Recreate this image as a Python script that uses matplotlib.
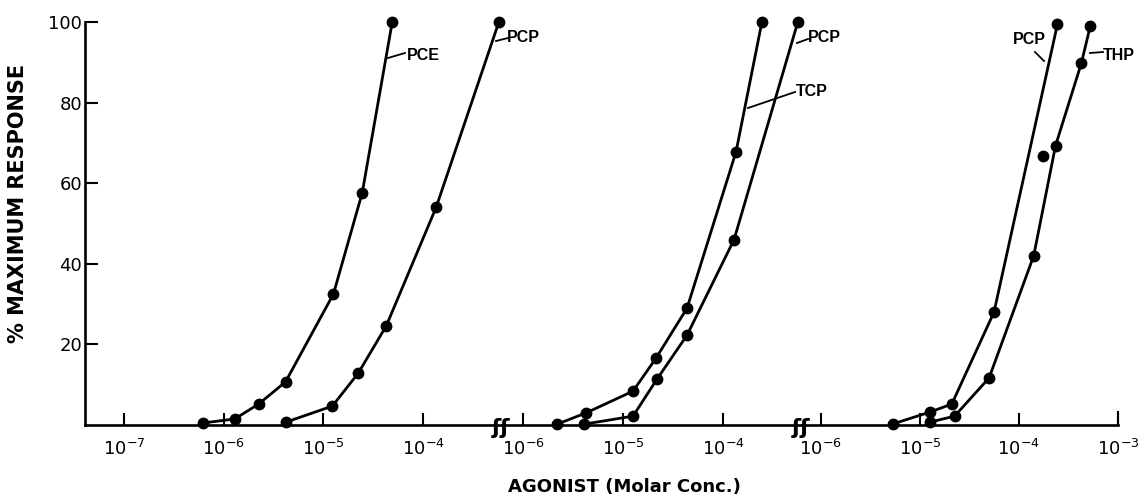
import matplotlib
matplotlib.use("Agg")
import matplotlib.pyplot as plt
from matplotlib.lines import Line2D

# ---------------- data (molar concentration, % maximum response) ----------------
# Panel 1
pce1_conc = [6.2e-7, 1.29e-6, 2.24e-6, 4.17e-6, 1.26e-5, 2.45e-5, 4.9e-5]
pce1_resp = [0.5, 1.5, 5.2, 10.7, 32.5, 57.6, 100]
pcp1_conc = [4.2e-6, 1.23e-5, 2.24e-5, 4.27e-5, 1.35e-4, 5.75e-4]
pcp1_resp = [0.7, 4.7, 12.9, 24.6, 54, 100]
# Panel 2
tcp2_conc = [2.19e-6, 4.27e-6, 1.26e-5, 2.14e-5, 4.37e-5, 1.35e-4, 2.45e-4]
tcp2_resp = [0.2, 3.0, 8.4, 16.6, 29, 67.8, 100]
pcp2_conc = [4.07e-6, 1.26e-5, 2.19e-5, 4.37e-5, 1.29e-4, 5.6e-4]
pcp2_resp = [0.2, 2.2, 11.4, 22.3, 46, 100]
# Panel 3
pcp3_conc = [5.4e-6, 1.26e-5, 2.1e-5, 5.6e-5, 2.45e-4]
pcp3_resp = [0.3, 3.2, 5.2, 28, 99.5]
thp3_conc = [1.26e-5, 2.24e-5, 5.0e-5, 1.41e-4, 2.34e-4, 4.27e-4, 5.25e-4]
thp3_resp = [0.7, 2.2, 11.7, 42, 69.3, 89.8, 99]
extra3_conc = [1.74e-4]
extra3_resp = [66.8]

yticks = [20, 40, 60, 80, 100]
xticks1 = [1e-7, 1e-6, 1e-5, 1e-4]
xticks2 = [1e-6, 1e-5, 1e-4]
xticks3 = [1e-6, 1e-5, 1e-4, 1e-3]
xticklabels1 = ["$10^{-7}$", "$10^{-6}$", "$10^{-5}$", "$10^{-4}$"]
xticklabels2 = ["$10^{-6}$", "$10^{-5}$", "$10^{-4}$"]
xticklabels3 = ["$10^{-6}$", "$10^{-5}$", "$10^{-4}$", "$10^{-3}$"]

# ---------------- layout ----------------
plt.rcParams['mathtext.fontset'] = 'dejavusans'
W, H = 1147, 499
fig = plt.figure(figsize=(W / 100, H / 100), dpi=100)
fig.patch.set_facecolor("white")


def fx(x):
    return x / W


def fy(y):
    return 1 - y / H


top_px, bot_px = 22, 425
edges = [85, 502, 802, 1118]
xlims = [(10 ** -7.391, 10 ** -3.209), (10 ** -6.21, 10 ** -3.21), (10 ** -6.19, 10 ** -3.0)]
axes = []
for i in range(3):
    ax = fig.add_axes([fx(edges[i]), fy(bot_px), (edges[i + 1] - edges[i]) / W,
                       (bot_px - top_px) / H])
    ax.patch.set_visible(False)
    ax.set_xscale("log")
    ax.set_xlim(*xlims[i])
    ax.set_ylim(0, 100)
    for s in ["top", "right"]:
        ax.spines[s].set_visible(False)
    ax.spines["bottom"].set_linewidth(1.9)
    ax.spines["left"].set_linewidth(1.9)
    if i > 0:
        ax.spines["left"].set_visible(False)
        ax.set_yticks([])
    ax.minorticks_off()
    ax.tick_params(axis="x", direction="in", length=8.5, width=1.5, pad=10,
                   labelsize=13)
    axes.append(ax)

ax1, ax2, ax3 = axes
ax1.set_yticks(yticks)
ax1.set_yticklabels([str(v) for v in yticks])
ax1.tick_params(axis="y", direction="in", length=9, width=1.5, pad=2, labelsize=13)

for ax, t, l in zip(axes, [xticks1, xticks2, xticks3],
                    [xticklabels1, xticklabels2, xticklabels3]):
    ax.set_xticks(t)
    ax.set_xticklabels(l)
    ax.minorticks_off()

style = dict(color="black", lw=2.0, marker="o", ms=7.5, clip_on=False, zorder=5)
ax1.plot(pce1_conc, pce1_resp, **style)
ax1.plot(pcp1_conc, pcp1_resp, **style)
ax2.plot(tcp2_conc, tcp2_resp, **style)
ax2.plot(pcp2_conc, pcp2_resp, **style)
ax3.plot(pcp3_conc, pcp3_resp, **style)
ax3.plot(thp3_conc, thp3_resp, **style)
ax3.plot(extra3_conc, extra3_resp, ls="none", color="black", marker="o", ms=7.5,
         clip_on=False, zorder=5)

# right-end tick on the x axis
fig.add_artist(Line2D([fx(1118), fx(1118)], [fy(425), fy(412)], color="black", lw=1.5))

# axis break marks
for bx in [501, 801]:
    fig.text(fx(bx), fy(428), "ʃʃ", ha="center", va="center", fontsize=16,
             fontweight="bold", family="DejaVu Sans", color="black", zorder=10)

# axis titles
fig.text(fx(18), fy(203), "% MAXIMUM RESPONSE", rotation=90, ha="center", va="center",
         fontsize=15, fontweight="bold", family="DejaVu Sans")
fig.text(fx(624), fy(487), "AGONIST (Molar Conc.)", ha="center", va="center",
         fontsize=13, fontweight="bold", family="DejaVu Sans")

# curve labels with leader lines (pixel layout)
lab_font = dict(fontsize=11.5, fontweight="bold",
                family=["Liberation Sans", "DejaVu Sans"], ha="center", va="center")
labels = [
    ("PCE", (423, 55), (388, 58), (405, 53)),
    ("PCP", (523, 37), (496, 41), (508, 38)),
    ("PCP", (824, 37), (797, 43), (808, 39)),
    ("TCP", (812, 91), (748, 108), (795, 92)),
    ("PCP", (1029, 40), (1044, 61), (1035, 52)),
    ("THP", (1119, 55), (1090, 53), (1103, 52)),
]
for txt, (tx, ty), (x0, y0), (x1, y1) in labels:
    fig.text(fx(tx), fy(ty), txt, **lab_font)
    fig.add_artist(Line2D([fx(x0), fx(x1)], [fy(y0), fy(y1)], color="black", lw=1.3))

fig.savefig("out.png", dpi=100, facecolor="white")
